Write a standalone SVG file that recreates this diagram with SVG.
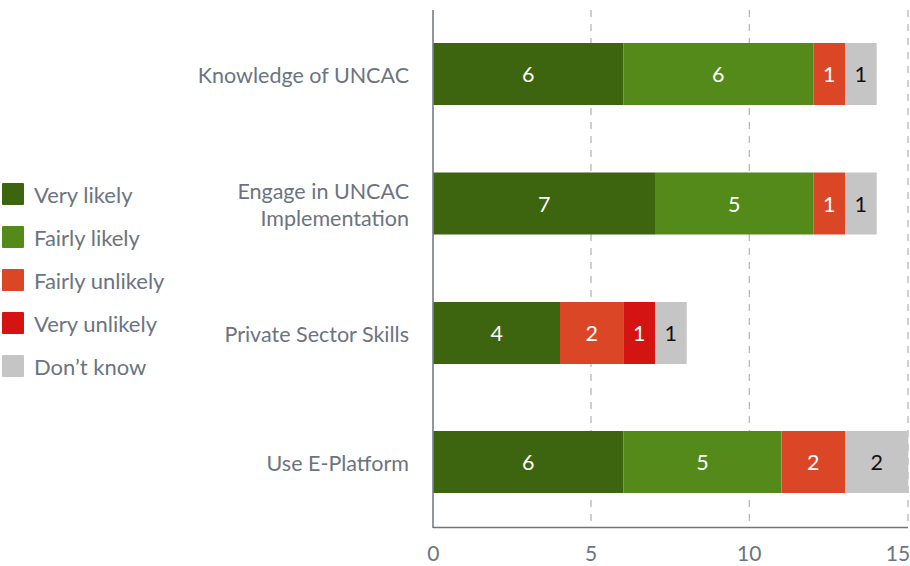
<svg xmlns="http://www.w3.org/2000/svg" width="910" height="566" viewBox="0 0 910 566">
<style>
text{font-family:Lato,"Liberation Sans",sans-serif;font-size:21.5px;fill:#6b7480}
.lg{font-size:22px}
.cat{text-anchor:end}
.tick{text-anchor:middle;font-size:21px}
.v{text-anchor:middle;fill:#fff}
.vd{text-anchor:middle;fill:#111}
.grid{stroke:#b4b8bd;stroke-width:1.3;stroke-dasharray:7,7}
.axis{stroke:#6b7480;stroke-width:1.5}
.c1{fill:#3d650f}.c2{fill:#548a19}.c3{fill:#db4627}.c4{fill:#d41313}.c5{fill:#c5c5c5}
</style>
<rect width="910" height="566" fill="#fff"/>
<g id="grid">
<line class="grid" x1="591" y1="10" x2="591" y2="527"/>
<line class="grid" x1="749.3" y1="10" x2="749.3" y2="527"/>
<line class="grid" x1="908" y1="10" x2="908" y2="527"/>
</g>
<g id="legend">
<rect class="c1" x="2" y="183" width="22" height="22" rx="1"/><text class="lg" x="34" y="203">Very likely</text>
<rect class="c2" x="2" y="226" width="22" height="22" rx="1"/><text class="lg" x="34" y="246">Fairly likely</text>
<rect class="c3" x="2" y="269" width="22" height="22" rx="1"/><text class="lg" x="34" y="289">Fairly unlikely</text>
<rect class="c4" x="2" y="312" width="22" height="22" rx="1"/><text class="lg" x="34" y="332">Very unlikely</text>
<rect class="c5" x="2" y="355" width="22" height="22" rx="1"/><text class="lg" x="34" y="375">Don’t know</text>
</g>
<g id="knowledge">
<text class="cat" x="409" y="83">Knowledge of UNCAC</text>
<rect class="c1" x="433.3" y="43" width="190" height="62"/>
<rect class="c2" x="623.3" y="43" width="190" height="62"/>
<rect class="c3" x="813.3" y="43" width="31.7" height="62"/>
<rect class="c5" x="845" y="43" width="31.7" height="62"/>
<text class="v" x="528.3" y="82">6</text><text class="v" x="718.3" y="82">6</text>
<text class="v" x="829.2" y="82">1</text><text class="vd" x="860.8" y="82">1</text>
</g>
<g id="engage">
<text class="cat" x="409" y="199">Engage in UNCAC</text>
<text class="cat" x="409" y="226">Implementation</text>
<rect class="c1" x="433.3" y="172.5" width="221.7" height="62"/>
<rect class="c2" x="655" y="172.5" width="158.3" height="62"/>
<rect class="c3" x="813.3" y="172.5" width="31.7" height="62"/>
<rect class="c5" x="845" y="172.5" width="31.7" height="62"/>
<text class="v" x="544.2" y="211.5">7</text><text class="v" x="734.2" y="211.5">5</text>
<text class="v" x="829.2" y="211.5">1</text><text class="vd" x="860.8" y="211.5">1</text>
</g>
<g id="private">
<text class="cat" x="409" y="342">Private Sector Skills</text>
<rect class="c1" x="433.3" y="302" width="126.7" height="62"/>
<rect class="c3" x="560" y="302" width="63.3" height="62"/>
<rect class="c4" x="623.3" y="302" width="31.7" height="62"/>
<rect class="c5" x="655" y="302" width="31.7" height="62"/>
<text class="v" x="496.7" y="341">4</text><text class="v" x="591.7" y="341">2</text>
<text class="v" x="639.2" y="341">1</text><text class="vd" x="670.8" y="341">1</text>
</g>
<g id="eplatform">
<text class="cat" x="409" y="471">Use E-Platform</text>
<rect class="c1" x="433.3" y="431" width="190" height="62"/>
<rect class="c2" x="623.3" y="431" width="158.3" height="62"/>
<rect class="c3" x="781.7" y="431" width="63.3" height="62"/>
<rect class="c5" x="845" y="431" width="63.3" height="62"/>
<text class="v" x="528.3" y="470">6</text><text class="v" x="702.5" y="470">5</text>
<text class="v" x="813.3" y="470">2</text><text class="vd" x="876.7" y="470">2</text>
</g>
<g id="axes">
<line class="axis" x1="433" y1="10" x2="433" y2="528"/>
<line class="axis" x1="433" y1="527.5" x2="908" y2="527.5"/>
<text class="tick" x="433.3" y="561">0</text>
<text class="tick" x="591" y="561">5</text>
<text class="tick" x="749.3" y="561">10</text>
<text class="tick" x="898" y="561">15</text>
</g>
</svg>
